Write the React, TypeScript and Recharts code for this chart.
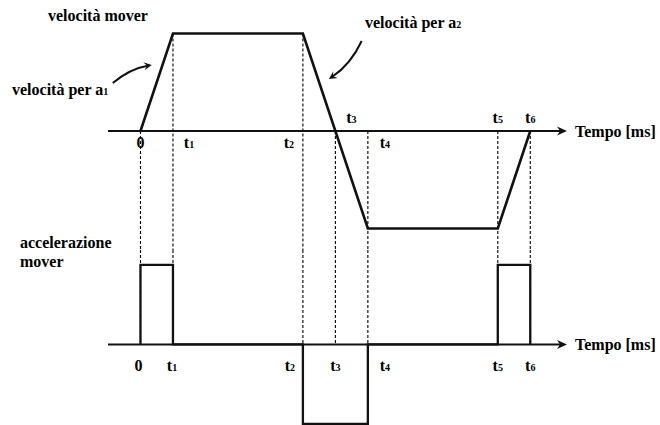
import { LineChart, Line, XAxis, YAxis, ReferenceLine, ReferenceDot } from 'recharts';

// time instants on both axes (ms, arbitrary units)
const tickTimes = [0, 1, 5, 6, 7, 11, 12];
const tickNames = ['0', 't1', 't2', 't3', 't4', 't5', 't6'];
// velocity level where each dashed guide starts in the upper plot
const guideFrom = [0, 3, 3, 0, 0, 0, 0];

// velocità mover (trapezoidal profile)
const velTimes = [0, 1, 5, 7, 11, 12];
const velValues = [0, 3, 3, -3, -3, 0];

// accelerazione mover (rectangular pulses)
const accTimes = [0, 0, 1, 1, 5, 5, 7, 7, 11, 11, 12, 12];
const accValues = [0, 1, 1, 0, 0, -1, -1, 0, 0, 1, 1, 0];

const velData = velTimes.map((t, i) => ({ t, v: velValues[i] }));
const accData = accTimes.map((t, i) => ({ t, a: accValues[i] }));

const X_DOMAIN: [number, number] = [-1, 13.1];
const VEL_DOMAIN: [number, number] = [-3.662, 4.031];
const ACC_DOMAIN: [number, number] = [-1.0125, 1.1875];
const MARGIN = { top: 0, right: 94, bottom: 0, left: 108 };

const FONT = '"Liberation Serif", "Times New Roman", serif';
const INK = '#111';

// label offsets (px) from the point where each instant meets the axis
const topLabelPos = [
  { dx: 0, dy: 17 }, { dx: 16, dy: 17 }, { dx: -14, dy: 17 }, { dx: 16, dy: -8 },
  { dx: 17, dy: 17 }, { dx: 0, dy: -8 }, { dx: 0, dy: -8 },
];
const bottomLabelPos = [
  { dx: -2, dy: 27 }, { dx: -1, dy: 27 }, { dx: -13, dy: 27 }, { dx: 0, dy: 27 },
  { dx: 17, dy: 27 }, { dx: 0, dy: 27 }, { dx: 0, dy: 27 },
];

const TimeAxis = (props: any) => {
  const { x1, y1, x2 } = props;
  return (
    <g>
      <line x1={x1} y1={y1} x2={x2 - 4} y2={y1} stroke={INK} strokeWidth={2} />
      <path
        d={`M${x2 + 1},${y1} L${x2 - 9},${y1 - 4.5} L${x2 - 6},${y1} L${x2 - 9},${y1 + 4.5} Z`}
        fill={INK}
      />
      <text x={x2 + 9} y={y1 + 6} fontFamily={FONT} fontWeight="bold" fontSize={16} fill="#000">
        Tempo [ms]
      </text>
    </g>
  );
};

const curvedArrow = (bend: number) => (props: any) => {
  const { x1, y1, x2, y2 } = props;
  const dx = x2 - x1;
  const dy = y2 - y1;
  const len = Math.hypot(dx, dy) || 1;
  const nx = -dy / len;
  const ny = dx / len;
  const cx = (x1 + x2) / 2 + nx * bend;
  const cy = (y1 + y2) / 2 + ny * bend;
  let ex = x2 - cx;
  let ey = y2 - cy;
  const el = Math.hypot(ex, ey) || 1;
  ex /= el;
  ey /= el;
  const px = -ey;
  const py = ex;
  const L = 8;
  const W = 4;
  const head = `M${x2},${y2} L${x2 - ex * L + px * W},${y2 - ey * L + py * W} L${x2 - ex * L * 0.6},${y2 - ey * L * 0.6} L${x2 - ex * L - px * W},${y2 - ey * L - py * W} Z`;
  return (
    <g>
      <path d={`M${x1},${y1} Q${cx},${cy} ${x2 - ex * 4},${y2 - ey * 4}`} fill="none" stroke={INK} strokeWidth={2} />
      <path d={head} fill={INK} />
    </g>
  );
};

const tickLabel = (name: string, dx: number, dy: number) => (props: any) => (
  <text x={props.cx + dx} y={props.cy + dy} textAnchor="middle" fontFamily={FONT} fontWeight="bold" fontSize={16} fill="#000">
    {name[0]}
    {name.length > 1 && <tspan fontSize={10}>{name.slice(1)}</tspan>}
  </text>
);

const guideStyle = { stroke: '#000', strokeWidth: 1.1, strokeDasharray: '3 2' };

export default function App() {
  return (
    <div style={{ position: 'absolute', left: 0, top: 0, width: 660, height: 425, background: '#fff' }}>
      <div style={{ position: 'absolute', left: 0, top: 0 }}>
        <LineChart width={660} height={250} data={velData} margin={MARGIN}>
          <XAxis dataKey="t" type="number" domain={X_DOMAIN} hide />
          <YAxis type="number" domain={VEL_DOMAIN} hide />
          {tickTimes.map((t, i) => (
            <ReferenceLine
              key={`g${i}`}
              segment={[{ x: t, y: guideFrom[i] }, { x: t, y: VEL_DOMAIN[0] }]}
              ifOverflow="visible"
              {...guideStyle}
            />
          ))}
          <ReferenceLine y={0} shape={TimeAxis} />
          <ReferenceLine
            segment={[{ x: -0.853, y: 1.477 }, { x: 0.348, y: 2.03 }]}
            shape={curvedArrow(-6)}
          />
          <ReferenceLine
            segment={[{ x: 6.81, y: 2.77 }, { x: 5.8, y: 1.6 }]}
            shape={curvedArrow(-7)}
          />
          <Line type="linear" dataKey="v" stroke={INK} strokeWidth={2.6} dot={false} isAnimationActive={false} />
          {tickTimes.map((t, i) => (
            <ReferenceDot
              key={`l${i}`}
              x={t}
              y={0}
              r={0}
              shape={tickLabel(tickNames[i], topLabelPos[i].dx, topLabelPos[i].dy)}
            />
          ))}
        </LineChart>
      </div>
      <div style={{ position: 'absolute', left: 0, top: 250 }}>
        <LineChart width={660} height={175} data={accData} margin={MARGIN}>
          <XAxis dataKey="t" type="number" domain={X_DOMAIN} hide />
          <YAxis type="number" domain={ACC_DOMAIN} hide />
          {tickTimes.map((t, i) => (
            <ReferenceLine
              key={`g${i}`}
              segment={[{ x: t, y: ACC_DOMAIN[1] }, { x: t, y: 0 }]}
              ifOverflow="visible"
              {...guideStyle}
            />
          ))}
          <ReferenceLine y={0} shape={TimeAxis} />
          <Line type="linear" dataKey="a" stroke={INK} strokeWidth={2.3} dot={false} isAnimationActive={false} />
          {tickTimes.map((t, i) => (
            <ReferenceDot
              key={`l${i}`}
              x={t}
              y={0}
              r={0}
              shape={tickLabel(tickNames[i], bottomLabelPos[i].dx, bottomLabelPos[i].dy)}
            />
          ))}
        </LineChart>
      </div>
      <svg width={660} height={425} style={{ position: 'absolute', left: 0, top: 0, pointerEvents: 'none' }}>
        <g fontFamily={FONT} fontWeight="bold" fontSize={16} fill="#000">
          <text x={48} y={21}>velocità mover</text>
          <text x={12} y={95}>
            velocità per a<tspan fontSize={10}>1</tspan>
          </text>
          <text x={365} y={28}>
            velocità per a<tspan fontSize={10}>2</tspan>
          </text>
          <text x={20} y={248}>accelerazione</text>
          <text x={20} y={267}>mover</text>
        </g>
      </svg>
    </div>
  );
}
